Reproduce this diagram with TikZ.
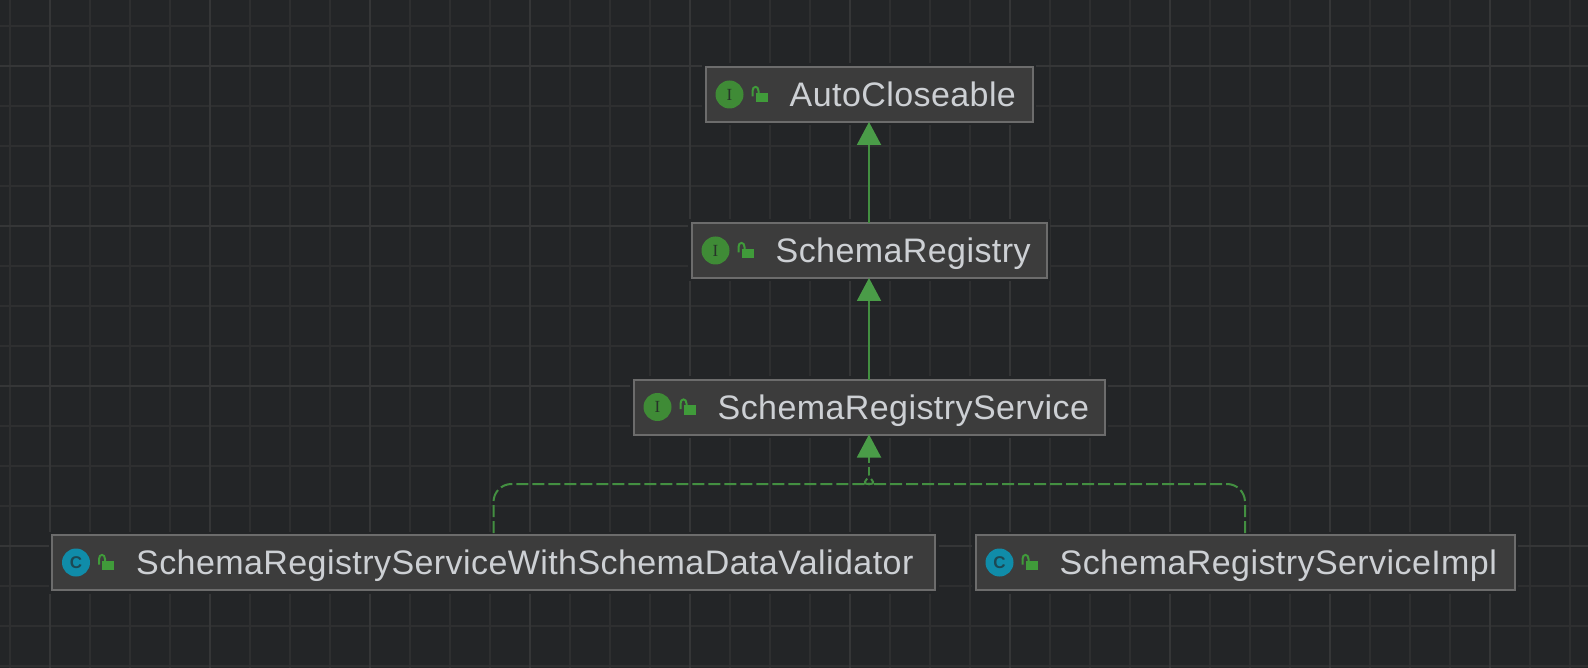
\documentclass[tikz,border=0pt]{standalone}
\usepackage{fontspec}
\setmainfont[LetterSpace=1.25]{Liberation Sans}
\newfontfamily\iconfont{Liberation Serif}
\usetikzlibrary{arrows.meta}
\definecolor{canvasbg}{HTML}{232527}
\definecolor{gridminor}{HTML}{2E2F30}
\definecolor{gridmajor}{HTML}{353637}
\definecolor{boxfill}{HTML}{3C3C3C}
\definecolor{boxedge}{HTML}{6C6C6C}
\definecolor{labeltext}{HTML}{CDD0D4}
\definecolor{inheritgreen}{HTML}{438F41}
\definecolor{tipgreen}{HTML}{4A9C48}
\definecolor{ifacegreen}{HTML}{3F8B36}
\definecolor{classblue}{HTML}{108CA9}
\definecolor{lockgreen}{HTML}{409B3A}
\tikzset{
  classbox/.style={draw=boxedge,fill=boxfill,line width=2pt,minimum height=55pt,inner sep=0pt,outer sep=0pt,
    preaction={draw=canvasbg,line width=7pt}},
  classname/.style={text=labeltext,font=\fontsize{34}{40}\selectfont,anchor=base west,inner sep=0pt},
  ifaceicon/.style={circle,fill=ifacegreen,minimum size=28pt,inner sep=0pt,text=canvasbg!85!ifacegreen,font=\iconfont\fontsize{17}{17}\selectfont},
  classicon/.style={circle,fill=classblue,minimum size=28pt,inner sep=0pt,text=canvasbg!65!classblue,font=\fontsize{17}{17}\selectfont\bfseries},
  inherit/.style={draw=inheritgreen,line width=2pt,-{Triangle[length=23pt,width=24pt,color=tipgreen]}},
  realize/.style={draw=inheritgreen,line width=2pt,dash pattern=on 12pt off 4pt},
  lockicon/.pic={
    \fill[lockgreen] (-5,-1.7) rectangle (7,7.7);
    \draw[lockgreen,line width=2pt] (-8,2) -- (-8,-3.5) .. controls (-8,-9) and (-2,-9) .. (-2,-3.5) -- (-2,-1.7);
  }
}
\begin{document}
\begin{tikzpicture}[x=1pt,y=-1pt]
  \useasboundingbox (0,0) rectangle (1588,668);
  \fill[canvasbg] (0,0) rectangle (1588,668);
  % background grid
  \foreach \gx in {10,50,...,1570} \draw[gridminor,line width=1.6pt] (\gx,0) -- (\gx,668);
  \foreach \gy in {26,66,...,666} \draw[gridminor,line width=1.6pt] (0,\gy) -- (1588,\gy);
  \foreach \gx in {50,210,...,1490} \draw[gridmajor,line width=1.6pt] (\gx,0) -- (\gx,668);
  \foreach \gy in {66,226,386,546} \draw[gridmajor,line width=1.6pt] (0,\gy) -- (1588,\gy);

  % class boxes
  \node[classbox,minimum width=327pt] (auto) at (869,94.5) {};
  \node[classbox,minimum width=355pt] (registry) at (869,250.5) {};
  \node[classbox,minimum width=471pt] (service) at (869,407) {};
  \node[classbox,minimum width=883pt] (validator) at (493.5,562.5) {};
  \node[classbox,minimum width=539pt] (impl) at (1245,562.5) {};

  % icons and names
  \node[ifaceicon] (autoicon) at ([xshift=24pt]auto.west) {I};
  \pic at ([xshift=55pt]auto.west) {lockicon};
  \node[classname] (autoname) at ([xshift=84pt,yshift=-12pt]auto.west) {AutoCloseable};
  \node[ifaceicon] (registryicon) at ([xshift=24pt]registry.west) {I};
  \pic at ([xshift=55pt]registry.west) {lockicon};
  \node[classname] (registryname) at ([xshift=84pt,yshift=-12pt]registry.west) {SchemaRegistry};
  \node[ifaceicon] (serviceicon) at ([xshift=24pt]service.west) {I};
  \pic at ([xshift=55pt]service.west) {lockicon};
  \node[classname] (servicename) at ([xshift=84pt,yshift=-12pt]service.west) {SchemaRegistryService};
  \node[classicon] (validatoricon) at ([xshift=24pt]validator.west) {C};
  \pic at ([xshift=55pt]validator.west) {lockicon};
  \node[classname] (validatorname) at ([xshift=84pt,yshift=-12pt]validator.west) {SchemaRegistryServiceWithSchemaDataValidator};
  \node[classicon] (implicon) at ([xshift=24pt]impl.west) {C};
  \pic at ([xshift=55pt]impl.west) {lockicon};
  \node[classname] (implname) at ([xshift=84pt,yshift=-12pt]impl.west) {SchemaRegistryServiceImpl};

  % connectors
  \draw[inherit] (registry.north) -- (auto.south);
  \draw[inherit] (service.north) -- (registry.south);
  \coordinate (joint) at (869,475);
  \draw[realize,dash phase=14pt] (validator.north) [rounded corners=18pt] |- (852,484) [sharp corners] .. controls (860,484) and (867,481) .. (joint);
  \draw[realize,dash phase=14pt] (impl.north) [rounded corners=18pt] |- (886,484) [sharp corners] .. controls (878,484) and (871,481) .. (joint);
  \draw[realize,dash phase=4pt,-{Triangle[length=23pt,width=24pt,color=tipgreen]}] (joint) -- (service.south);
\end{tikzpicture}
\end{document}
